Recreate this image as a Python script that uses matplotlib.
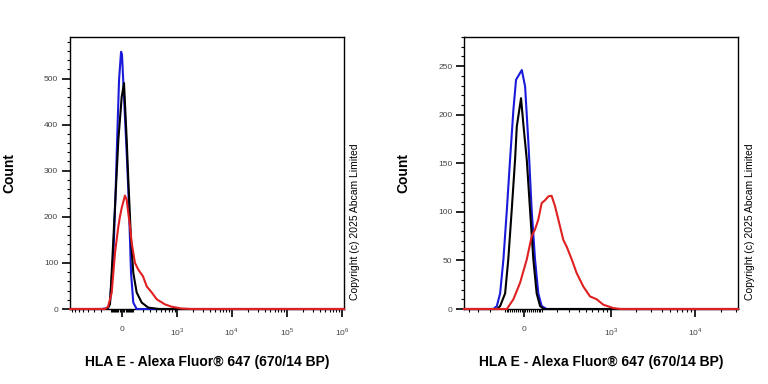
import math
import matplotlib
matplotlib.use('Agg')
import matplotlib.pyplot as plt
from matplotlib.ticker import FixedLocator, MultipleLocator, FuncFormatter

plt.rcParams['font.family'] = ['Liberation Sans', 'DejaVu Sans']
plt.rcParams['mathtext.fontset'] = 'custom'
plt.rcParams['mathtext.rm'] = 'Liberation Sans'

# ---- left panel data (fluorescence, count) ----
left_blue_x = [-881, -200, -125, -106, -75, -54, -37, -25, -8, 0, 25, 40, 54, 69, 78, 99, 132, 200, 1.1e6]
left_blue_y = [0, 0, 2, 15, 114, 259, 403, 497, 558, 552, 417, 338, 259, 150, 79, 14, 0, 0, 0]
left_black_x = [-881, -140, -125, -106, -90, -60, -31, -2.5, 17, 40, 54, 78, 99, 132, 186, 270, 455, 1.1e6]
left_black_y = [0, 0, 3, 10, 79, 222, 367, 460, 490, 367, 280, 150, 79, 36, 14, 3, 0, 0]
left_red_x = [-881, -156, -125, -90, -60, -31, -17, -2.5, 25, 40, 54, 69, 84, 99, 115, 150,
              201, 249, 321, 410, 594, 796, 1222, 1865, 1.1e6]
left_red_y = [0, 0, 5, 35, 122, 179, 201, 219, 246, 237, 208, 179, 144, 122, 100, 85,
              71, 49, 36, 21, 10, 5, 1, 0, 0]

# ---- right panel data ----
right_blue_x = [-458, -173, -150, -129, -109, -89, -71, -53, -39, -9, 8, 25, 42, 60, 78, 97, 127, 31800]
right_blue_y = [0, 0, 3, 16, 51, 102, 154, 205, 236, 246, 229, 171, 102, 51, 16, 3, 0, 0]
right_black_x = [-458, -150, -129, -99, -81, -62, -44, -35, -13, 0, 16.5, 33.6, 51, 69, 88, 110, 31800]
right_black_y = [0, 0, 3, 16, 51, 102, 154, 188, 217, 188, 154, 102, 51, 16, 3, 0, 0]
right_red_x = [-458, -89, -53, -18, 16.5, 42.5, 60, 78, 97, 117, 138, 159, 182, 207, 247, 277,
               325, 378, 462, 559, 676, 815, 1073, 1300, 31800]
right_red_y = [0, 0, 10, 27, 51, 75, 82, 92, 109, 112, 116, 116.5, 106, 92, 71, 64,
               51, 37, 23, 13, 10, 4.4, 1, 0, 0]

XLABEL = 'HLA E - Alexa Fluor® 647 (670/14 BP)'
COPYRIGHT = 'Copyright (c) 2025 Abcam Limited'


def minor_positions(xmin, xmax):
    pos = []
    for n in range(1, 6):
        for k in range(1, 10):
            for s in (-1, 1):
                v = s * k * 10 ** n
                if xmin < v < xmax and v not in (1e3, 1e4, 1e5, 1e6):
                    pos.append(v)
    return pos


def fmt_x(v, pos):
    if v == 0:
        return '0'
    return r'$10^{%d}$' % round(math.log10(v))


def draw_panel(ax, curves, xlim, lw_lin, ylim, ymaj, ymin, majors):
    for xs, ys, c in curves:
        ax.plot(xs, ys, color=c, lw=1.5, clip_on=False, zorder=3)
    ax.set_xscale('asinh', linear_width=lw_lin)
    ax.set_xlim(*xlim)
    ax.set_ylim(*ylim)
    ax.xaxis.set_major_locator(FixedLocator(majors))
    ax.xaxis.set_minor_locator(FixedLocator(minor_positions(*xlim)))
    ax.xaxis.set_major_formatter(FuncFormatter(fmt_x))
    ax.yaxis.set_major_locator(MultipleLocator(ymaj))
    ax.yaxis.set_minor_locator(MultipleLocator(ymin))
    ax.tick_params(axis='both', which='major', length=5.5, width=1.2, labelsize=6,
                   labelcolor='#444444', pad=3)
    ax.tick_params(axis='both', which='minor', length=2.5, width=0.8)
    ax.tick_params(axis='x', which='major', pad=7)
    for sp in ax.spines.values():
        sp.set_linewidth(1.0)
    ax.set_ylabel('Count', fontsize=10, fontweight='bold', labelpad=20)
    ax.set_xlabel(XLABEL, fontsize=10, fontweight='bold', labelpad=12)


fig = plt.figure(figsize=(7.68, 3.84), dpi=100)
ax1 = fig.add_axes([0.0911, 0.1953, 0.3568, 0.7083])
ax2 = fig.add_axes([0.6042, 0.1953, 0.3568, 0.7083])

draw_panel(ax1,
           [(left_blue_x, left_blue_y, '#1a1adb'),
            (left_black_x, left_black_y, 'black'),
            (left_red_x, left_red_y, '#e02020')],
           (-881, 1.1e6), 202, (0, 590), 100, 20, [0, 1e3, 1e4, 1e5, 1e6])
draw_panel(ax2,
           [(right_blue_x, right_blue_y, '#1a1adb'),
            (right_black_x, right_black_y, 'black'),
            (right_red_x, right_red_y, '#e02020')],
           (-458, 31800), 190, (0, 280), 50, 10, [0, 1e3, 1e4])

fig.text(355 / 768, 1 - 222 / 384, COPYRIGHT, rotation=90, fontsize=7.5,
         ha='center', va='center')
fig.text(750 / 768, 1 - 222 / 384, COPYRIGHT, rotation=90, fontsize=7.5,
         ha='center', va='center')

fig.savefig('out.png', dpi=100)
